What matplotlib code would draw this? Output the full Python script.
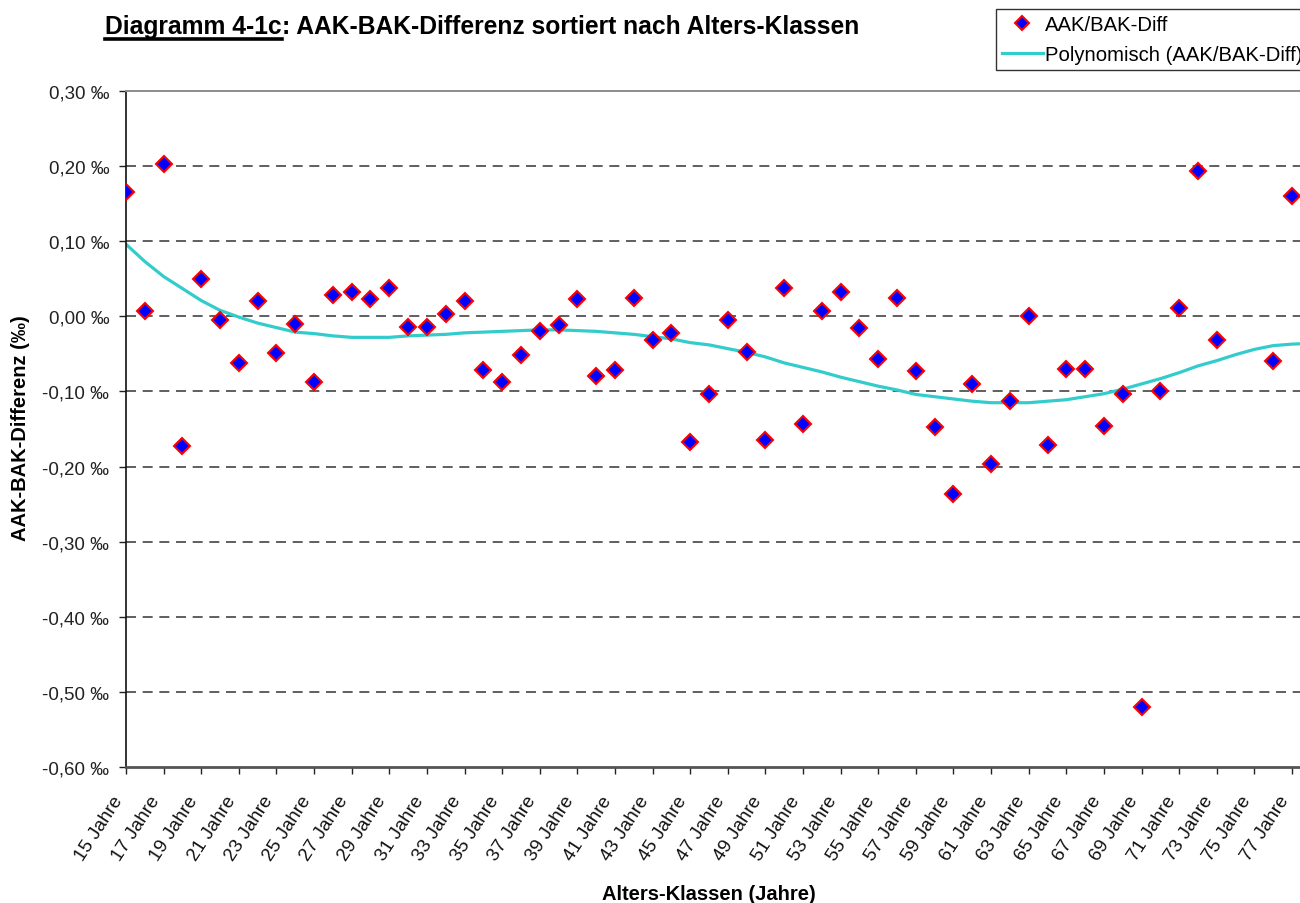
import matplotlib
matplotlib.use("Agg")
import matplotlib.pyplot as plt
import matplotlib.transforms as mtransforms
import numpy as np
from matplotlib.ticker import FuncFormatter, FixedLocator
from matplotlib.lines import Line2D

plt.rcParams['font.family'] = ['Liberation Sans', 'DejaVu Sans']

# === DATA ===
ages = list(range(15, 78))
diff = [0.166, 0.007, 0.203, -0.173, 0.050, -0.005, -0.062, 0.021, -0.049, -0.010,
        -0.088, 0.028, 0.033, 0.023, 0.038, -0.014, -0.014, 0.003, 0.021, -0.071,
        -0.088, -0.051, -0.019, -0.011, 0.023, -0.080, -0.071, 0.025, -0.032, -0.022,
        -0.167, -0.104, -0.005, -0.047, -0.164, 0.038, -0.144, 0.007, 0.032, -0.016,
        -0.057, 0.025, -0.073, -0.148, -0.237, -0.090, -0.197, -0.113, 0.001, -0.171,
        -0.070, -0.070, -0.146, -0.104, -0.520, -0.100, 0.011, 0.193, -0.031, np.nan,
        np.nan, -0.059, 0.160]

trend_ages = list(range(15, 79))
trend = [0.096, 0.073, 0.053, 0.037, 0.021, 0.008, -0.001, -0.009, -0.015, -0.021,
         -0.023, -0.026, -0.028, -0.028, -0.028, -0.026, -0.025, -0.024, -0.022, -0.021,
         -0.020, -0.019, -0.018, -0.018, -0.019, -0.020, -0.022, -0.024, -0.027, -0.030,
         -0.035, -0.038, -0.043, -0.048, -0.054, -0.062, -0.068, -0.074, -0.081, -0.087,
         -0.093, -0.098, -0.104, -0.107, -0.110, -0.113, -0.115, -0.115, -0.115, -0.113,
         -0.111, -0.107, -0.103, -0.097, -0.090, -0.083, -0.075, -0.066, -0.059, -0.051,
         -0.044, -0.039, -0.037, -0.036]

tick_ages = list(range(15, 78, 2))
tick_labels = [f"{a} Jahre" for a in tick_ages]
y_ticks = [0.3, 0.2, 0.1, 0.0, -0.1, -0.2, -0.3, -0.4, -0.5, -0.6]

# === FIGURE ===
W, H = 1300, 904
fig = plt.figure(figsize=(W / 100, H / 100), dpi=100)
px_per_year = (1292 - 126) / 62
ax_right = 126 + 63 * px_per_year          # plot area runs past the cropped right edge
ax = fig.add_axes([126 / W, 1 - 768 / H, (ax_right - 126) / W, (768 - 92) / H])

ax.plot(trend_ages, trend, color='#33CCCC', lw=2.3, zorder=2, label='Polynomisch (AAK/BAK-Diff)')
ax.plot(ages, diff, ls='none', marker='D', ms=8, mfc='#0000FF', mec='#FF0000', mew=1.5,
        zorder=3, label='AAK/BAK-Diff')

ax.set_xlim(15, 78)
ax.set_ylim(-0.6, 0.3)

ax.xaxis.set_major_locator(FixedLocator(tick_ages))
ax.set_xticklabels([])
ax.set_yticks(y_ticks)
ax.yaxis.set_major_formatter(FuncFormatter(lambda v, p: f"{v:.2f}".replace('.', ',') + " ‰"))
ax.tick_params(axis='y', labelsize=13.5, length=5, width=1, pad=7, colors='#222222')
ax.tick_params(axis='x', length=5, width=1, colors='#222222')

# rotated category labels, end of text just left of the tick
lbl_trans = ax.get_xaxis_transform() + mtransforms.ScaledTranslation(-7 / 100, -30 / 100, fig.dpi_scale_trans)
for a, lab in zip(tick_ages, tick_labels):
    ax.text(a, 0, lab, transform=lbl_trans, rotation=57, rotation_mode='anchor',
            ha='right', va='center', fontsize=13.6, color='#111111', clip_on=False)

for v in y_ticks[1:-1]:
    ax.axhline(v, color='#444444', lw=1.2, ls=(0, (6, 4)), zorder=1)

ax.spines['left'].set_color('#111111')
ax.spines['left'].set_linewidth(1.2)
ax.spines['bottom'].set_color('#555555')
ax.spines['bottom'].set_linewidth(2)
ax.spines['top'].set_color('#8c8c8c')
ax.spines['top'].set_linewidth(1.4)
ax.spines['right'].set_color('#8c8c8c')

# axis titles
fig.text(709 / W, 1 - 895 / H, "Alters-Klassen (Jahre)", ha='center', va='center',
         fontsize=14.5, fontweight='bold')
fig.text(21 / W, 1 - 428 / H, "AAK-BAK-Differenz (‰)", ha='center', va='center',
         rotation=90, fontsize=14.5, fontweight='bold')

# title with underlined prefix
t1 = fig.text(105 / W, 1 - 34 / H, "Diagramm 4-1c", ha='left', va='baseline',
              fontsize=17.7, fontweight='bold')
renderer = fig.canvas.get_renderer()
bb = t1.get_window_extent(renderer)
fig.text(bb.x1 / W, 1 - 34 / H, ": AAK-BAK-Differenz sortiert nach Alters-Klassen",
         ha='left', va='baseline', fontsize=17.7, fontweight='bold')
fig.add_artist(Line2D([bb.x0 / W, bb.x1 / W], [1 - 39.5 / H, 1 - 39.5 / H],
                      color='black', lw=2.6, transform=fig.transFigure))

# legend (cropped at the right edge like the original)
handles, labels = ax.get_legend_handles_labels()
leg = fig.legend(handles[::-1], labels[::-1], loc='upper left',
                 bbox_to_anchor=(996 / W, 1 - 10 / H), borderaxespad=0,
                 fontsize=14.6, frameon=True, fancybox=False, edgecolor='black',
                 handlelength=2.0, handletextpad=0.1, labelspacing=0.55,
                 borderpad=0.3, markerscale=0.9)
leg.get_frame().set_linewidth(1.0)

fig.savefig("out.png", dpi=100)
